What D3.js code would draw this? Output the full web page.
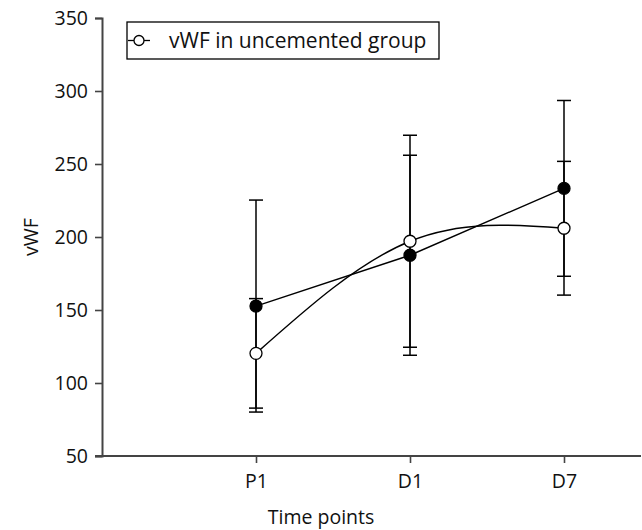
<!DOCTYPE html>
<html>
<head>
<meta charset="utf-8">
<script src="https://cdn.jsdelivr.net/npm/d3@7.9.0/dist/d3.min.js"></script>
<style>
  body { margin: 0; background: #fff; }
  text { font-family: "Open Sans", "Noto Sans", sans-serif; fill: #111; }
</style>
</head>
<body>
<svg id="chart" width="642" height="530"></svg>
<script>
// ====== DATA ======
const timePoints = ["P1", "D1", "D7"];
const cementedMean = [152.7, 187.5, 233.3];
const cementedSD = [72.6, 68.5, 60.2];
const uncementedMean = [120.3, 197.1, 206.0];
const uncementedSD = [37.5, 72.6, 45.8];
const yTicks = [50, 100, 150, 200, 250, 300, 350];
const legendLabel = "vWF in uncemented group";

// ====== LAYOUT ======
const svg = d3.select("#chart");
const plotLeft = 102, plotRight = 641, plotTop = 18, plotBottom = 456;
const fontSize = 19.5;

const x = d3.scaleLinear().domain([0, 3.5]).range([plotLeft, plotRight]);
const y = d3.scaleLinear().domain([50, 350]).range([plotBottom, plotTop]);

// y axis
const yAxis = svg.append("g")
  .attr("transform", `translate(${plotLeft},0)`)
  .call(d3.axisLeft(y).tickValues(yTicks).tickSize(7).tickPadding(7));

// x axis
const xAxis = svg.append("g")
  .attr("transform", `translate(0,${plotBottom})`)
  .call(d3.axisBottom(x).tickValues([1, 2, 3]).tickFormat((d) => timePoints[d - 1])
    .tickSize(7).tickPadding(11));

[yAxis, xAxis].forEach((g) => {
  g.select(".domain").attr("stroke", "#444").attr("stroke-width", 2);
  g.selectAll(".tick line").attr("stroke", "#444").attr("stroke-width", 1.6);
  g.selectAll("text").attr("font-size", fontSize).attr("fill", "#111")
    .attr("font-family", "Open Sans, Noto Sans, sans-serif");
});
// extend x axis line left to meet the 50 tick
xAxis.select(".domain").attr("d", `M${plotLeft - 7},0H${plotRight}`);

// axis titles
svg.append("text")
  .attr("x", 321).attr("y", 524)
  .attr("text-anchor", "middle").attr("font-size", fontSize)
  .text("Time points");

svg.append("text")
  .attr("transform", `translate(38,${(plotTop + plotBottom) / 2}) rotate(-90)`)
  .attr("text-anchor", "middle").attr("font-size", fontSize)
  .text("vWF");

// ====== SERIES ======
const series = [
  { mean: cementedMean, sd: cementedSD, fill: "#000", curve: d3.curveLinear },
  { mean: uncementedMean, sd: uncementedSD, fill: "#fff", curve: d3.curveNatural }
];

const capW = 7;
series.forEach((s) => {
  const g = svg.append("g");
  s.mean.forEach((m, i) => {
    const cx = x(i + 1);
    const hi = y(m + s.sd[i]), lo = y(m - s.sd[i]);
    g.append("line").attr("x1", cx).attr("x2", cx).attr("y1", hi).attr("y2", lo)
      .attr("stroke", "#000").attr("stroke-width", 1.5);
    [hi, lo].forEach((yy) => {
      g.append("line").attr("x1", cx - capW).attr("x2", cx + capW)
        .attr("y1", yy).attr("y2", yy)
        .attr("stroke", "#000").attr("stroke-width", 1.5);
    });
  });
});

series.forEach((s) => {
  const line = d3.line().x((d, i) => x(i + 1)).y((d) => y(d)).curve(s.curve);
  svg.append("path").attr("d", line(s.mean))
    .attr("fill", "none").attr("stroke", "#000").attr("stroke-width", 1.4);
});

series.forEach((s) => {
  svg.append("g").selectAll("circle").data(s.mean).join("circle")
    .attr("cx", (d, i) => x(i + 1)).attr("cy", (d) => y(d)).attr("r", 6)
    .attr("fill", s.fill).attr("stroke", "#000").attr("stroke-width", 1.3);
});

// ====== LEGEND ======
const lg = svg.append("g").attr("transform", "translate(127,22)");
lg.append("rect").attr("width", 312).attr("height", 37)
  .attr("fill", "#fff").attr("stroke", "#000").attr("stroke-width", 1.3);
lg.append("line").attr("x1", 1).attr("x2", 23).attr("y1", 18.5).attr("y2", 18.5)
  .attr("stroke", "#000").attr("stroke-width", 1.3);
lg.append("circle").attr("cx", 12).attr("cy", 18.5).attr("r", 5)
  .attr("fill", "#fff").attr("stroke", "#000").attr("stroke-width", 1.3);
lg.append("text").attr("x", 42).attr("y", 25.5).attr("font-size", fontSize + 1.5)
  .text(legendLabel);
</script>
</body>
</html>
